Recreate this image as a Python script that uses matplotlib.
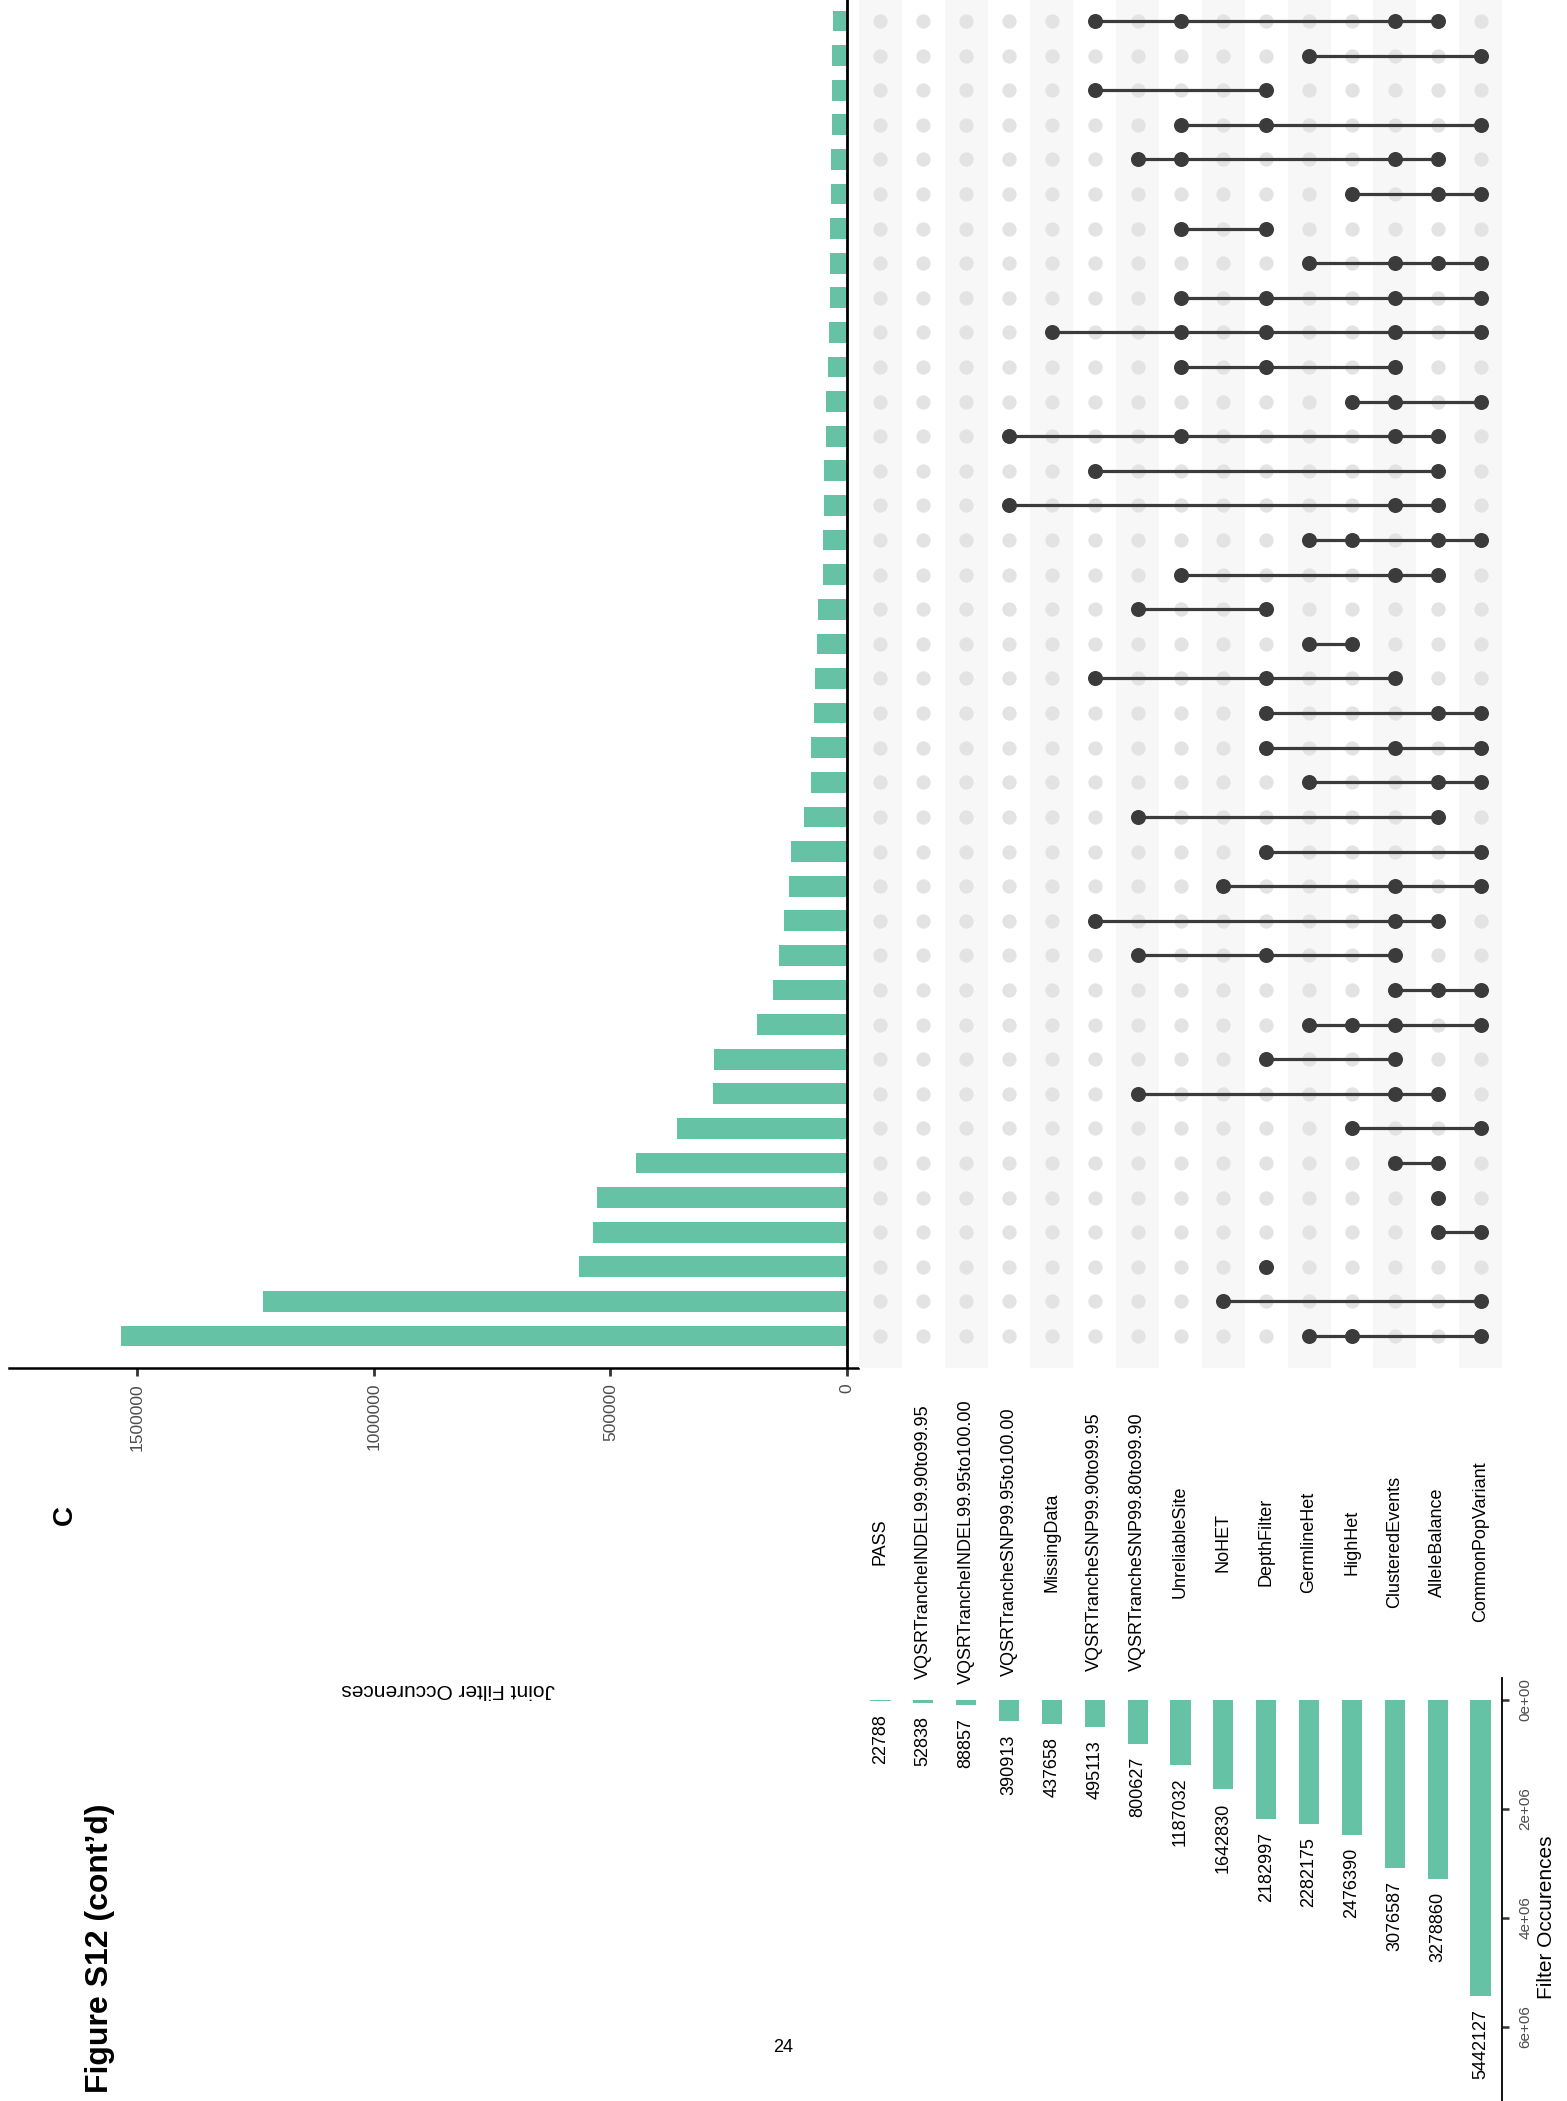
import matplotlib.pyplot as plt
from matplotlib import transforms

plt.rcParams['font.family'] = ['Liberation Sans', 'DejaVu Sans']

W, H = 1567, 2101

filters = ['PASS', 'VQSRTrancheINDEL99.90to99.95', 'VQSRTrancheINDEL99.95to100.00',
           'VQSRTrancheSNP99.95to100.00', 'MissingData', 'VQSRTrancheSNP99.90to99.95',
           'VQSRTrancheSNP99.80to99.90', 'UnreliableSite', 'NoHET', 'DepthFilter',
           'GermlineHet', 'HighHet', 'ClusteredEvents', 'AlleleBalance', 'CommonPopVariant']
filter_counts = [22788, 52838, 88857, 390913, 437658, 495113, 800627, 1187032,
                 1642830, 2182997, 2282175, 2476390, 3076587, 3278860, 5442127]

# joint filter combinations (indices into filters), largest first
joint_sets = [
    [10, 11, 14], [8, 14], [9], [13, 14], [13], [12, 13], [11, 14], [6, 12, 13],
    [9, 12], [10, 11, 12, 14], [12, 13, 14], [6, 9, 12], [5, 12, 13], [8, 12, 14],
    [9, 14], [6, 13], [10, 13, 14], [9, 12, 14], [9, 13, 14], [5, 9, 12], [10, 11],
    [6, 9], [7, 12, 13], [10, 11, 13, 14], [3, 12, 13], [5, 13], [3, 7, 12, 13],
    [11, 12, 14], [7, 9, 12], [4, 7, 9, 12, 14], [7, 9, 12, 14], [10, 12, 13, 14],
    [7, 9], [11, 13, 14], [6, 7, 12, 13], [7, 9, 14], [5, 9], [10, 14], [5, 7, 12, 13],
]
joint_counts = [
    1535000, 1234000, 566000, 536000, 528000, 445000, 359000, 283000,
    282000, 190000, 156000, 143000, 132500, 122000,
    118000, 90000, 75500, 75500, 69000, 67500, 64000,
    62000, 51500, 51500, 49300, 49300, 45100,
    45100, 40900, 38800, 36600, 36600,
    36600, 34500, 34500, 32400, 32400, 32400, 30300,
]
joint_ticks = [0, 500000, 1000000, 1500000]
filter_ticks = [0, 2e6, 4e6, 6e6]
filter_tick_labels = ['0e+00', '2e+06', '4e+06', '6e+06']

bar_color = '#66C2A5'
dot_color = '#3B3B3B'
empty_color = '#E3E3E3'
shade_color = '#F7F7F7'
tick_gray = '#4D4D4D'


def box(left, top, right, bottom):
    # pixel box (from top-left) -> figure rect
    return [left / W, 1 - bottom / H, (right - left) / W, (bottom - top) / H]


fig = plt.figure(figsize=(W / 100, H / 100), dpi=100)

n = len(joint_counts)
ylim = (-0.925, n - 1 + 0.925)

# intersection sizes, drawn sideways
ax_bar = fig.add_axes(box(8.6, -11, 858, 1368))
ax_bar.barh(range(n), joint_counts, height=0.6, color=bar_color)
ax_bar.set_xlim(1.7725e6, -23.3e3)
ax_bar.set_ylim(*ylim)
ax_bar.axvline(0, color='black', lw=2)
for s in ['top', 'left', 'right']:
    ax_bar.spines[s].set_visible(False)
ax_bar.spines['bottom'].set_linewidth(1.8)
ax_bar.spines['bottom'].set_color('black')
ax_bar.set_yticks([])
ax_bar.set_xticks(joint_ticks, [str(t) for t in joint_ticks])
ax_bar.tick_params(axis='x', length=5.8, width=2, color='#333333', pad=5,
                   labelsize=12.5, labelcolor=tick_gray, labelrotation=90)
ax_bar.set_xlabel('Joint Filter Occurences', fontsize=15, rotation=180)
ax_bar.xaxis.set_label_coords(0.517, -0.2328)
ax_bar.xaxis.label.set_va('center')
ax_bar.patch.set_alpha(0)

# membership matrix
ax_mat = fig.add_axes(box(859, -11, 1502, 1368))
ax_mat.set_xlim(-0.5, len(filters) - 0.5)
ax_mat.set_ylim(*ylim)
for k in range(0, len(filters), 2):
    ax_mat.axvspan(k - 0.5, k + 0.5, color=shade_color, lw=0)
for i in range(n):
    ax_mat.plot(range(len(filters)), [i] * len(filters), 'o', ms=10.3,
                color=empty_color, mew=0, ls='none')
for i, members in enumerate(joint_sets):
    ax_mat.plot([min(members), max(members)], [i, i], color=dot_color, lw=2.3)
    ax_mat.plot(members, [i] * len(members), 'o', ms=10.8, color=dot_color,
                mew=0, ls='none')
ax_mat.axis('off')

# filter set sizes
ax_set = fig.add_axes(box(859, 1678, 1502, 2156))
ax_set.bar(range(len(filters)), filter_counts, width=0.47, color=bar_color)
ax_set.set_xlim(-0.5, len(filters) - 0.5)
ax_set.set_ylim(8.37e6, -403.7e3)
for s in ['top', 'left', 'bottom']:
    ax_set.spines[s].set_visible(False)
ax_set.spines['right'].set_linewidth(1.3)
ax_set.set_xticks([])
ax_set.yaxis.tick_right()
ax_set.set_yticks(filter_ticks, filter_tick_labels)
ax_set.tick_params(axis='y', length=5.3, width=1.8, color='#333333', pad=6.5,
                   labelsize=11, labelcolor=tick_gray, labelrotation=90)
for lab in ax_set.get_yticklabels():
    lab.set_va('center')
ax_set.yaxis.set_label_position('right')
ax_set.set_ylabel('Filter Occurences', fontsize=15, rotation=90,
                  rotation_mode='default', ha='center', va='center')
ax_set.yaxis.set_label_coords((1547 - 859) / (1502 - 859), 0.5)
for k, v in enumerate(filter_counts):
    ax_set.annotate(str(v), (k, v), xytext=(0, -9.4), textcoords='offset points',
                    rotation=90, ha='center', va='top', fontsize=13)

# filter names between matrix and set sizes
name_tr = transforms.blended_transform_factory(ax_set.transData, fig.transFigure)
for k, name in enumerate(filters):
    ax_set.text(k, 1 - 1542 / H, name, transform=name_tr, rotation=90,
                ha='center', va='center', fontsize=13, clip_on=False)

fig.text(100 / W, 1 - 1948 / H, 'Figure S12 (cont\u2019d)', rotation=90,
         fontsize=23, fontweight='bold', ha='center', va='center')
fig.text(65 / W, 1 - 1515 / H, 'C', rotation=90, fontsize=20,
         fontweight='bold', ha='center', va='center')
fig.text(783 / W, 1 - 2047 / H, '24', fontsize=13, ha='center', va='center')

fig.savefig('out.png', dpi=100)
